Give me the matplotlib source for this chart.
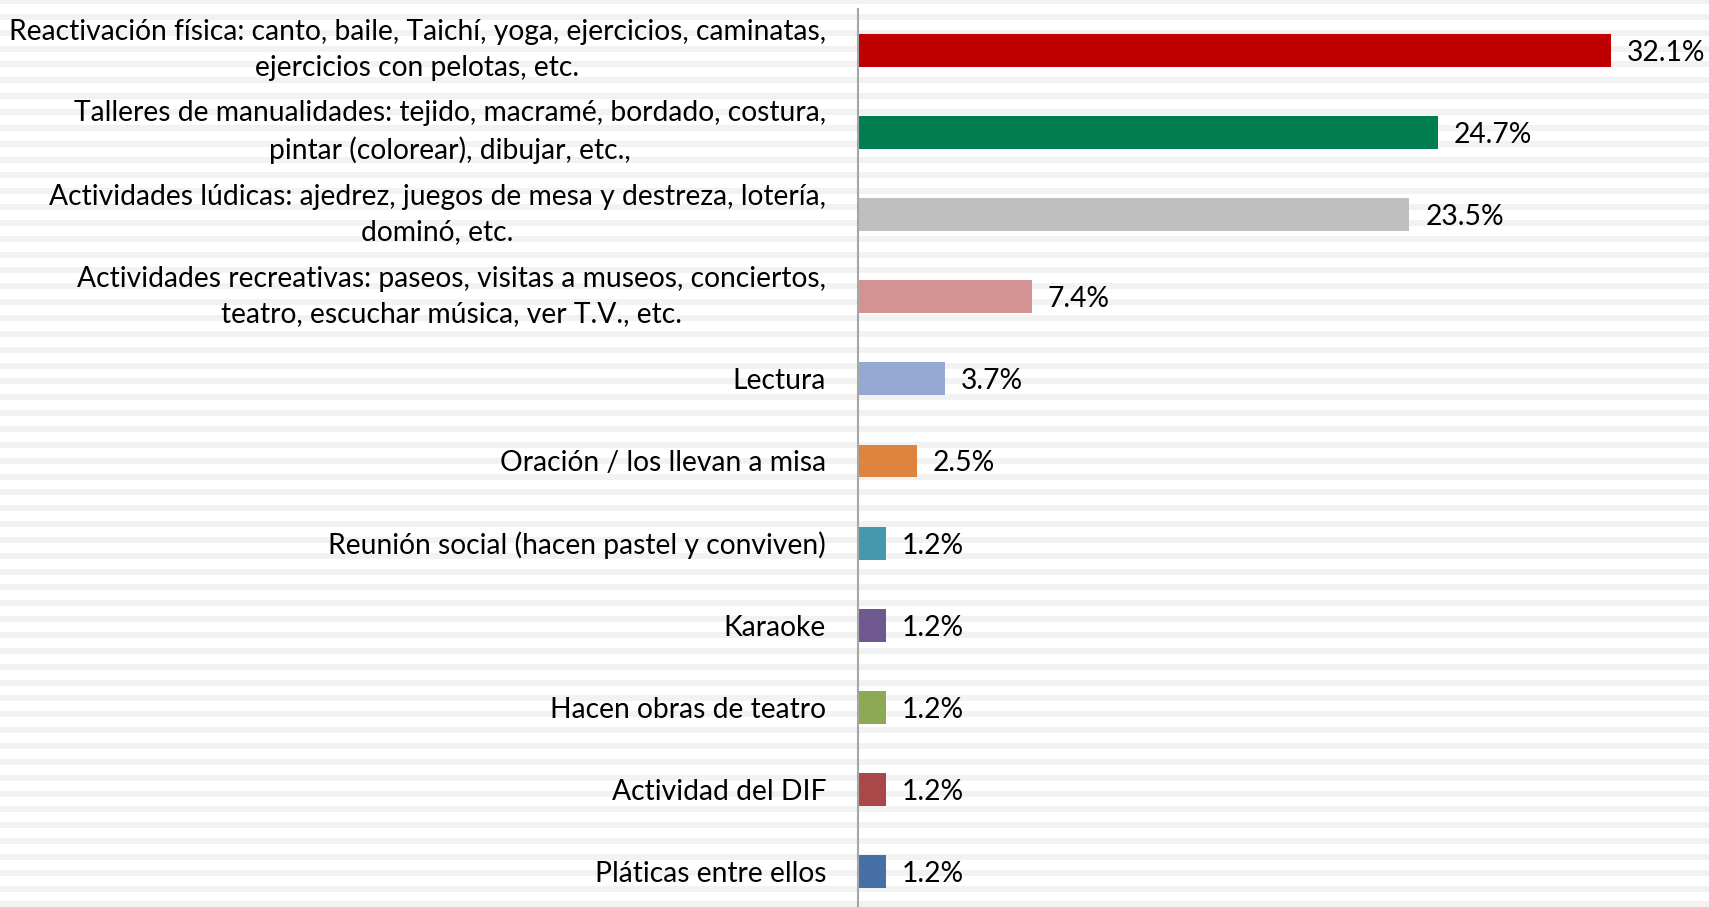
import numpy as np
import matplotlib
matplotlib.use("Agg")
import matplotlib.pyplot as plt
from matplotlib.patches import Rectangle

# -----------------------------
# Data
# -----------------------------
categories = [
    "Reactivación física: canto, baile, Taichí, yoga, ejercicios, caminatas,\nejercicios con pelotas, etc.",
    "Talleres de manualidades: tejido, macramé, bordado, costura,\npintar (colorear), dibujar, etc.,",
    "Actividades lúdicas: ajedrez, juegos de mesa y destreza, lotería,\ndominó, etc.",
    "Actividades recreativas: paseos, visitas a museos, conciertos,\nteatro, escuchar música, ver T.V., etc.",
    "Lectura",
    "Oración / los llevan a misa",
    "Reunión social (hacen pastel y conviven)",
    "Karaoke",
    "Hacen obras de teatro",
    "Actividad del DIF",
    "Pláticas entre ellos",
]
values = [32.1, 24.7, 23.5, 7.4, 3.7, 2.5, 1.2, 1.2, 1.2, 1.2, 1.2]
colors = ["#C00000", "#007E4F", "#BFBFBF", "#D39393", "#95A9D2", "#DE843F",
          "#4598AE", "#6F5790", "#8CA953", "#A94848", "#4670A6"]

plt.rcParams["font.family"] = ["Lato", "DejaVu Sans"]

W, H = 1709, 907
fig = plt.figure(figsize=(W / 100, H / 100), dpi=100)

# -----------------------------
# Striped background
# -----------------------------
period = 15.85
y = H + 2
while y > -period:
    fig.patches.append(Rectangle((0, (y - 6) / H), 1, 6 / H,
                                 transform=fig.transFigure, facecolor="#F2F2F2",
                                 edgecolor="none", zorder=-10))
    y -= period

# -----------------------------
# Bars
# -----------------------------
ax = fig.add_axes([858 / W, -6 / H, 1 - 858 / W, 904 / H])
ax.set_zorder(1)
ax.patch.set_alpha(0)

pos = np.arange(len(values))
ax.barh(pos, values, height=0.4, color=colors, zorder=2)
ax.set_ylim(len(values) - 0.5, -0.5)
ax.set_xlim(0, 36.27)

for p, v in zip(pos, values):
    ax.text(v + 0.68, p + 0.03, f"{v}%", va="center", ha="left", fontsize=20.3, color="#000000")

ax.set_yticks(pos)
ax.set_yticklabels(categories, fontsize=20.3, multialignment="center", linespacing=1.45)
for lbl in ax.get_yticklabels():
    if "\n" in lbl.get_text():
        lbl.set_va("center")
ax.tick_params(axis="y", length=0, pad=23)
ax.set_xticks([])

for s in ["top", "right", "bottom"]:
    ax.spines[s].set_visible(False)
ax.spines["left"].set_color("#A6A6A6")
ax.spines["left"].set_linewidth(1.5)

fig.savefig("out.png", dpi=100)
